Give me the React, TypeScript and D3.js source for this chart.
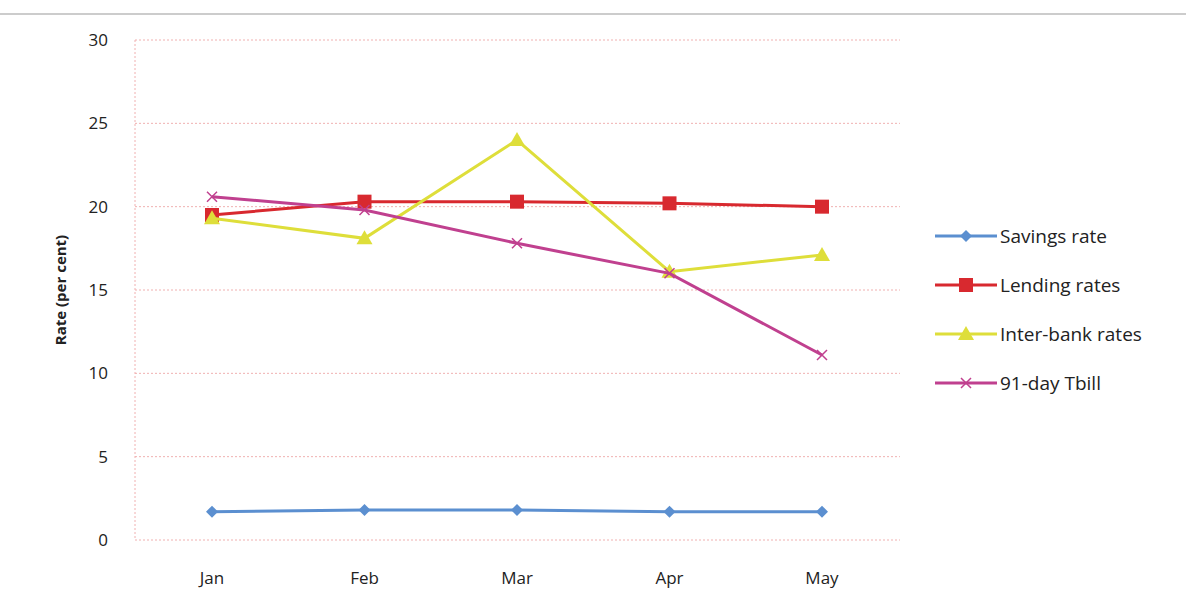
import React from "react";
import * as d3 from "d3";

const months = ["Jan", "Feb", "Mar", "Apr", "May"];
const savings = [1.7, 1.8, 1.8, 1.7, 1.7];
const lending = [19.5, 20.3, 20.3, 20.2, 20.0];
const interbank = [19.3, 18.1, 24.0, 16.1, 17.1];
const tbill = [20.6, 19.8, 17.8, 16.0, 11.1];
const yTicks = [0, 5, 10, 15, 20, 25, 30];

const series = [
  { name: "Savings rate", values: savings, color: "#5b8fd0", marker: "diamond" },
  { name: "Lending rates", values: lending, color: "#d8292f", marker: "square" },
  { name: "Inter-bank rates", values: interbank, color: "#dede3a", marker: "triangle" },
  { name: "91-day Tbill", values: tbill, color: "#c0408f", marker: "x" },
];

function Marker({ type, x, y, color }: any) {
  if (type === "diamond") return <path d={`M${x},${y - 6}L${x + 6},${y}L${x},${y + 6}L${x - 6},${y}Z`} fill={color} />;
  if (type === "square") return <rect x={x - 7} y={y - 7} width={14} height={14} fill={color} />;
  if (type === "triangle") return <path d={`M${x},${y - 8}L${x + 8},${y + 6}L${x - 8},${y + 6}Z`} fill={color} />;
  return <path d={`M${x - 5},${y - 5}L${x + 5},${y + 5}M${x - 5},${y + 5}L${x + 5},${y - 5}`} stroke={color} strokeWidth={1.5} />;
}

export default function App() {
  const x = d3.scalePoint().domain(months).range([212, 822]);
  const y = d3.scaleLinear().domain([0, 30]).range([540, 40]);
  const line = d3.line<number>().x((_, i) => x(months[i])!).y((d) => y(d));
  return (
    <svg width={1186} height={615} style={{ display: "block", position: "absolute", left: 0, top: 0 }} fontFamily="'Open Sans', sans-serif">
      <rect width={1186} height={615} fill="#fff" />
      <line x1={0} x2={1186} y1={14} y2={14} stroke="#999" />
      {yTicks.map((t) => (
        <g key={t}>
          <line x1={135} x2={900} y1={y(t)} y2={y(t)} stroke="#f0b0b0" strokeDasharray="2,2" />
          <text x={108} y={y(t) + 6} textAnchor="end" fontSize={17} fill="#222">{t}</text>
        </g>
      ))}
      <line x1={135} x2={135} y1={40} y2={540} stroke="#f0b0b0" strokeDasharray="2,2" />
      {months.map((m) => (
        <text key={m} x={x(m)} y={584} textAnchor="middle" fontSize={17} fill="#222">{m}</text>
      ))}
      <text transform="translate(66,290) rotate(-90)" textAnchor="middle" fontSize={15} fontWeight="bold" fill="#222">Rate (per cent)</text>
      {series.map((s) => (
        <g key={s.name}>
          <path d={line(s.values)!} fill="none" stroke={s.color} strokeWidth={3} />
          {s.values.map((v, i) => <Marker key={i} type={s.marker} x={x(months[i])} y={y(v)} color={s.color} />)}
        </g>
      ))}
      {series.map((s, i) => {
        const ly = 236 + i * 49;
        return (
          <g key={s.name}>
            <line x1={935} x2={997} y1={ly} y2={ly} stroke={s.color} strokeWidth={3} />
            <Marker type={s.marker} x={966} y={ly} color={s.color} />
            <text x={1000} y={ly + 7} fontSize={19} fill="#222">{s.name}</text>
          </g>
        );
      })}
    </svg>
  );
}
